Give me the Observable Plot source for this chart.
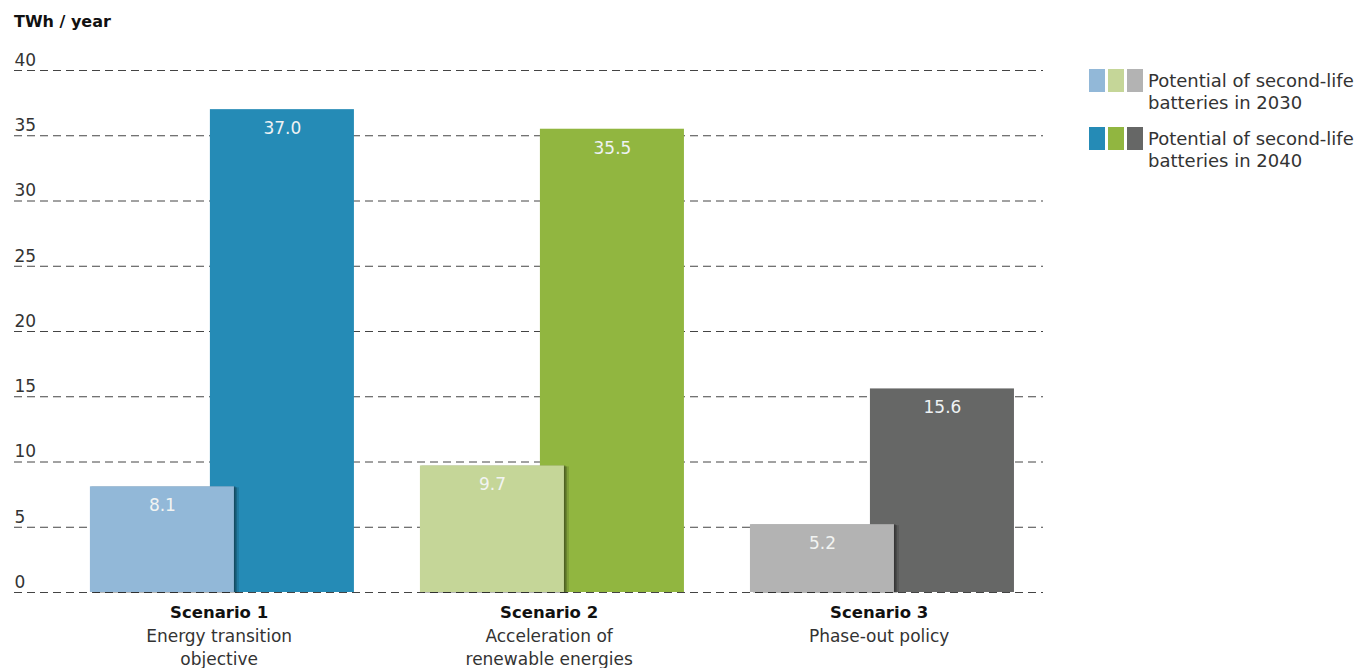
<!DOCTYPE html>
<html>
<head>
<meta charset="utf-8">
<script src="https://cdn.jsdelivr.net/npm/d3@7"></script>
<script src="https://cdn.jsdelivr.net/npm/@observablehq/plot@0.6"></script>
<style>
  html, body { margin: 0; padding: 0; background: #fff; }
  #wrap { position: relative; width: 1359px; height: 668px; font-family: "DejaVu Sans", sans-serif; }
  #title { position: absolute; left: 14px; top: 12px; font-size: 16px; font-weight: 700; color: #111; }
  #legend { position: absolute; left: 1089px; top: 69px; color: #333; font-size: 18px; line-height: 22px; }
  .row { display: flex; align-items: flex-start; margin-bottom: 13px; }
  .sw { width: 16px; height: 23px; margin-right: 3px; }
  .lt { margin-left: 2px; margin-top: 1px; }
</style>
</head>
<body>
<div id="wrap">
  <div id="chart"></div>
  <div id="title">TWh / year</div>
  <div id="legend"></div>
</div>
<script>
const scenarios = ["Scenario 1", "Scenario 2", "Scenario 3"];
const descriptions = ["Energy transition\nobjective", "Acceleration of\nrenewable energies", "Phase-out policy"];
const values2030 = [8.1, 9.7, 5.2];
const values2040 = [37.0, 35.5, 15.6];
const yTicks = [0, 5, 10, 15, 20, 25, 30, 35, 40];
const legendLabels = ["Potential of second-life\nbatteries in 2030", "Potential of second-life\nbatteries in 2040"];

const colors2030 = ["#92b8d8", "#c5d698", "#b3b3b3"];
const colors2040 = ["#258bb6", "#91b640", "#666766"];

const rows = scenarios.map((s, i) => ({i, scenario: s, desc: descriptions[i], v2030: values2030[i], v2040: values2040[i]}));

const bar2030 = {x1: d => d.i - 0.4, x2: d => d.i + 0.0364, y1: 0, y2: d => d.v2030};

const chart = Plot.plot({
  width: 1359,
  height: 668,
  marginLeft: 14,
  marginRight: 316,
  marginTop: 70,
  marginBottom: 76,
  style: {fontFamily: "DejaVu Sans, sans-serif", fontSize: "17px", background: "white"},
  x: {type: "linear", domain: [-0.63, 2.488], axis: null},
  y: {domain: [0, 40], axis: null},
  color: {type: "identity"},
  marks: [
    Plot.ruleY(yTicks, {stroke: "#444", strokeWidth: 1, strokeDasharray: "8,5"}),
    Plot.text(yTicks, {y: d => d, text: d => String(d), frameAnchor: "left", textAnchor: "start", lineAnchor: "middle", dy: -10, fill: "#333", fontSize: 17}),
    Plot.rectY(rows, {x1: d => d.i - 0.0364, x2: d => d.i + 0.4, y1: 0, y2: d => d.v2040, fill: d => colors2040[d.i]}),
    // soft shadow to the right of the 2030 bars
    Plot.rectY(rows, {...bar2030, fill: "#000", fillOpacity: 0.12, dx: 5, dy: 1}),
    Plot.rectY(rows, {...bar2030, fill: "#000", fillOpacity: 0.18, dx: 3, dy: 1}),
    Plot.rectY(rows, {...bar2030, fill: "#000", fillOpacity: 0.25, dx: 1.5}),
    Plot.rectY(rows, {...bar2030, fill: d => colors2030[d.i]}),
    Plot.text(rows, {x: d => d.i + 0.1818, y: d => d.v2040, text: d => d.v2040.toFixed(1), dy: 19, lineAnchor: "middle", fill: "#eef2f4", fontSize: 17}),
    Plot.text(rows, {x: d => d.i - 0.1818, y: d => d.v2030, text: d => d.v2030.toFixed(1), dy: 19, lineAnchor: "middle", fill: "#f2f4f2", fontSize: 17}),
    Plot.text(rows, {x: d => d.i - 0.01, y: 0, text: "scenario", dy: 20, lineAnchor: "middle", fill: "#111", fontSize: 16.5, fontWeight: 700}),
    Plot.text(rows, {x: d => d.i - 0.01, y: 0, text: "desc", dy: 33, lineAnchor: "top", lineHeight: 1.36, fill: "#333", fontSize: 17})
  ]
});
document.getElementById("chart").appendChild(chart);

const legend = document.getElementById("legend");
[colors2030, colors2040].forEach((cols, k) => {
  const row = document.createElement("div");
  row.className = "row";
  cols.forEach(c => {
    const s = document.createElement("div");
    s.className = "sw";
    s.style.background = c;
    row.appendChild(s);
  });
  const t = document.createElement("div");
  t.className = "lt";
  t.innerHTML = legendLabels[k].replace("\n", "<br>");
  row.appendChild(t);
  legend.appendChild(row);
});
</script>
</body>
</html>
